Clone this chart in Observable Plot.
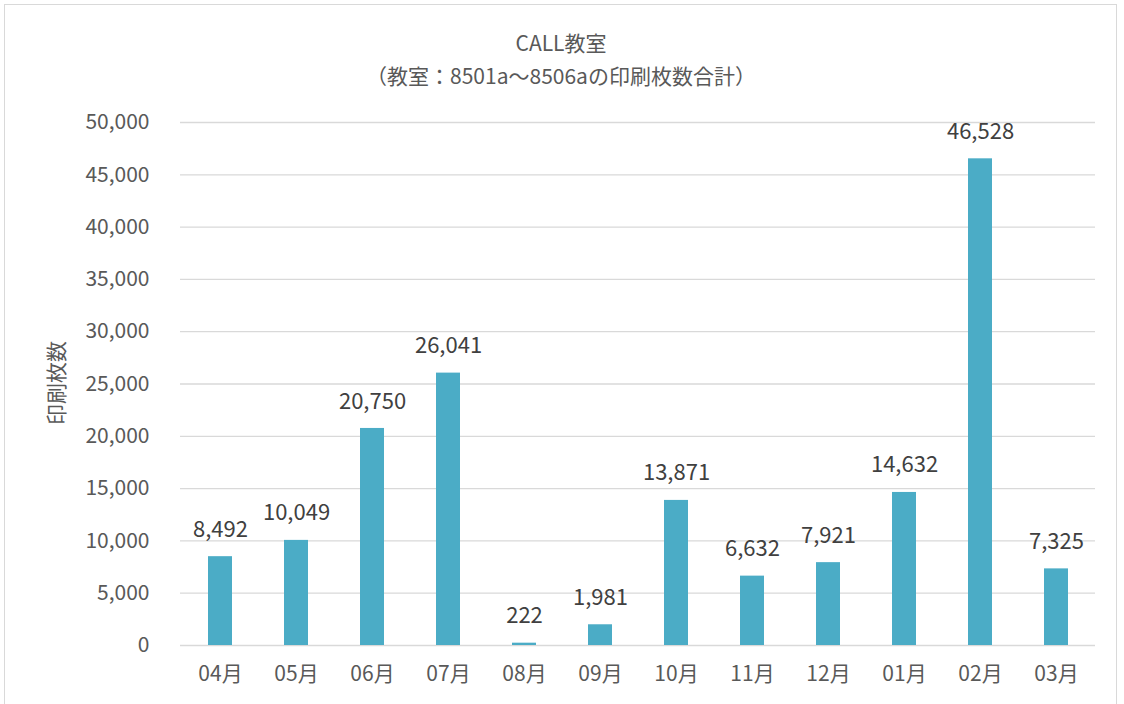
<!DOCTYPE html>
<html>
<head>
<meta charset="utf-8">
<script src="https://cdn.jsdelivr.net/npm/d3@7"></script>
<script src="https://cdn.jsdelivr.net/npm/@observablehq/plot@0.6"></script>
<style>
  html, body { margin: 0; padding: 0; background: #fff; }
  body { width: 1124px; height: 704px; overflow: hidden; position: relative;
         font-family: "Noto Sans CJK JP", "Noto Sans", sans-serif; color: #595959; }
  #frame { position: absolute; left: 4px; top: 4px; width: 1113px; height: 720px;
           border: 1px solid #d9d9d9; box-sizing: border-box; }
  #title { position: absolute; left: 4px; width: 1114px; top: 26px; text-align: center;
           font-size: 21px; line-height: 33px; }
  #chart { position: absolute; left: 0; top: 92px; }
  #ylabel { position: absolute; left: 55px; top: 383px; transform: translate(-50%, -50%) rotate(-90deg);
            font-size: 21px; white-space: nowrap; }
</style>
</head>
<body>
<div id="frame"></div>
<div id="title"><div>CALL教室</div><div>（教室：8501a～8506aの印刷枚数合計）</div></div>
<div id="ylabel">印刷枚数</div>
<div id="chart"></div>
<script>
const months = ["04月","05月","06月","07月","08月","09月","10月","11月","12月","01月","02月","03月"];
const counts = [8492, 10049, 20750, 26041, 222, 1981, 13871, 6632, 7921, 14632, 46528, 7325];
const yTicks = [0, 5000, 10000, 15000, 20000, 25000, 30000, 35000, 40000, 45000, 50000];

const data = months.map((m, i) => ({month: m, value: counts[i]}));
const fmt = d3.format(",");

const plot = Plot.plot({
  width: 1124,
  height: 612,
  marginLeft: 180,
  marginRight: 29,
  marginTop: 30,
  marginBottom: 59,
  style: {fontFamily: "'Noto Sans CJK JP', 'Noto Sans', sans-serif", fontSize: "21px", color: "#595959", background: "transparent"},
  x: {domain: months, paddingInner: 0.685, paddingOuter: 0.3425, align: 0.5, label: null},
  y: {domain: [0, 50000], label: null},
  marks: [
    Plot.gridY(yTicks, {stroke: "#d9d9d9", strokeOpacity: 1, strokeWidth: 1.3}),
    Plot.barY(data, {x: "month", y: "value", fill: "#4bacc6"}),
    Plot.text(data, {x: "month", y: "value", text: d => fmt(d.value), dy: -27, fill: "#404040", fontSize: 22, lineAnchor: "middle"}),
    Plot.axisX({tickSize: 0, tickPadding: 21, fill: "#595959", fontSize: 21}),
    Plot.axisY({ticks: yTicks, tickFormat: fmt, tickSize: 0, tickPadding: 31, fill: "#595959", fontSize: 21})
  ]
});
document.getElementById("chart").appendChild(plot);
</script>
</body>
</html>
